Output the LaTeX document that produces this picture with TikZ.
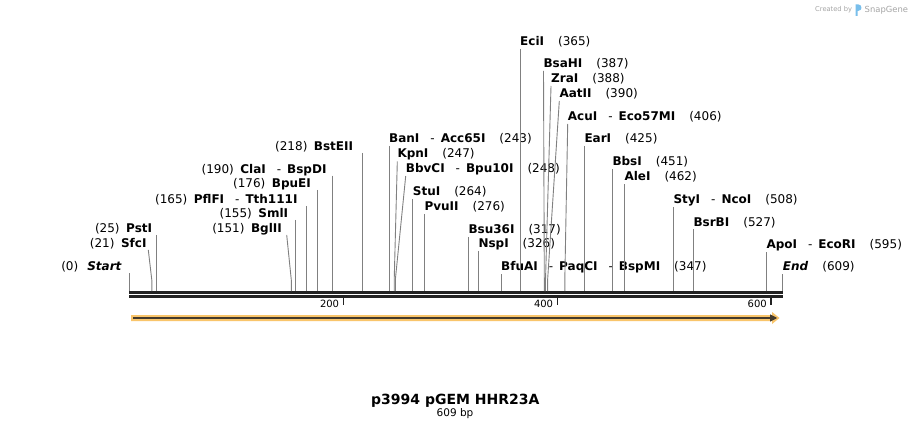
\documentclass[tikz,border=0pt]{standalone}
\usepackage{fontspec}
\setmainfont{DejaVu Sans}
\definecolor{cutgray}{RGB}{128,128,128}
\definecolor{rulerblack}{RGB}{34,34,34}
\definecolor{arrorange}{RGB}{249,197,107}
\definecolor{arrdark}{RGB}{68,58,44}
\definecolor{wmgray}{RGB}{165,165,165}
\definecolor{logoblue}{RGB}{120,190,235}
\newcommand{\sepd}{\hspace{11pt}-\hspace{6pt}}
\newcommand{\numgap}{\hspace{14pt}}
\newcommand{\lgap}{\hspace{6.5pt}}
\tikzset{
  cut/.style={draw=cutgray, line width=0.9pt},
  lab/.style={inner sep=0pt, font=\fontsize{12}{14}\selectfont},
  rlab/.style={lab, anchor=base west},
  llab/.style={lab, anchor=base east},
  rulerline/.style={draw=rulerblack, line width=2.7pt},
  tickmark/.style={draw=rulerblack, line width=1.6pt},
  ticklab/.style={inner sep=0pt, anchor=base east, font=\fontsize{10}{12}\selectfont},
}
\begin{document}
\begin{tikzpicture}[x=1pt,y=-1pt]
\useasboundingbox[fill=white] (0,0) rectangle (912,430);

% watermark
\node[anchor=base west, inner sep=0pt, text=wmgray, font=\fontsize{6.7}{8}\selectfont] (wm1) at (815,12) {Created by};
\fill[logoblue] (855.5,16) -- (855.5,4.5) -- (858.5,4.5) to[out=0,in=0,looseness=1.6] (858.5,10.8) -- (857.6,10.8) -- (857.6,16) -- cycle;
\node[anchor=base west, inner sep=0pt, text=wmgray, font=\fontsize{8.4}{10}\selectfont] (wm2) at (864.5,12.5) {SnapGene};

% ruler
\coordinate (r0) at (129.3,292.3);
\coordinate (r1) at (782.7,292.3);
\coordinate (q0) at (129.3,296.3);
\coordinate (q1) at (782.7,296.3);
\draw[rulerline] (r0) -- (r1);
\draw[rulerline] (q0) -- (q1);

% ticks
\coordinate (t200a) at (343.3,297); \coordinate (t200b) at (343.3,304.5);
\coordinate (t400a) at (557.3,297); \coordinate (t400b) at (557.3,304.5);
\coordinate (t600a) at (771,297);   \coordinate (t600b) at (771,304.5);
\draw[tickmark] (t200a) -- (t200b);
\draw[tickmark] (t400a) -- (t400b);
\draw[tickmark] (t600a) -- (t600b);
\node[ticklab] (l200) at (339.3,307.7) {200};
\node[ticklab] (l400) at (553.3,307.7) {400};
\node[ticklab] (l600) at (767,307.7) {600};

% feature arrow
\fill[arrorange] (131,315) -- (772,315) -- (772,312) -- (779.5,318) -- (772,324) -- (772,321) -- (131,321) -- cycle;
\draw[arrdark, line width=1.8pt] (133,318) -- (771,318);
\fill[arrdark] (770,314.3) -- (777.2,318) -- (770,321.7) -- cycle;

% left labels
\node[llab] (nStart) at (122,270) {(0)\hspace{9pt}\textbf{\itshape Start}};
\node[llab] (nSfcI) at (146.7,247.3) {(21)\lgap\textbf{SfcI}};
\node[llab] (nPstI) at (152.3,232.3) {(25)\lgap\textbf{PstI}};
\node[llab] (nBglII) at (282,232.3) {(151)\lgap\textbf{BglII}};
\node[llab] (nSmlI) at (288.3,217.3) {(155)\lgap\textbf{SmlI}};
\node[llab] (nPflFI) at (297.7,203.3) {(165)\lgap\textbf{PflFI}\sepd\textbf{Tth111I}};
\node[llab] (nBpuEI) at (311,187.3) {(176)\lgap\textbf{BpuEI}};
\node[llab] (nClaI) at (326.7,173.3) {(190)\lgap\textbf{ClaI}\sepd\textbf{BspDI}};
\node[llab] (nBstEII) at (353.3,150.7) {(218)\lgap\textbf{BstEII}};

% right labels
\node[rlab] (nEciI) at (520,45.7) {\textbf{EciI}\numgap(365)};
\node[rlab] (nBsaHI) at (543.3,67.3) {\textbf{BsaHI}\numgap(387)};
\node[rlab] (nZraI) at (551,82.7) {\textbf{ZraI}\numgap(388)};
\node[rlab] (nAatII) at (559.3,97.7) {\textbf{AatII}\numgap(390)};
\node[rlab] (nAcuI) at (567.7,120.7) {\textbf{AcuI}\sepd\textbf{Eco57MI}\numgap(406)};
\node[rlab] (nBanI) at (389,142.7) {\textbf{BanI}\sepd\textbf{Acc65I}\numgap(243)};
\node[rlab] (nEarI) at (584.3,142.7) {\textbf{EarI}\numgap(425)};
\node[rlab] (nKpnI) at (397.3,158) {\textbf{KpnI}\numgap(247)};
\node[rlab] (nBbsI) at (612.3,166) {\textbf{BbsI}\numgap(451)};
\node[rlab] (nBbvCI) at (405.7,172.7) {\textbf{BbvCI}\sepd\textbf{Bpu10I}\numgap(248)};
\node[rlab] (nAleI) at (624.3,181) {\textbf{AleI}\numgap(462)};
\node[rlab] (nStuI) at (412.7,196) {\textbf{StuI}\numgap(264)};
\node[rlab] (nStyI) at (673.3,203.3) {\textbf{StyI}\sepd\textbf{NcoI}\numgap(508)};
\node[rlab] (nPvuII) at (424.3,210.7) {\textbf{PvuII}\numgap(276)};
\node[rlab] (nBsrBI) at (693.3,226) {\textbf{BsrBI}\numgap(527)};
\node[rlab] (nBsu36I) at (468.3,233.3) {\textbf{Bsu36I}\numgap(317)};
\node[rlab] (nNspI) at (478.3,247.7) {\textbf{NspI}\numgap(326)};
\node[rlab] (nApoI) at (766.3,248.3) {\textbf{ApoI}\sepd\textbf{EcoRI}\numgap(595)};
\node[rlab] (nBfuAI) at (501,270.7) {\textbf{BfuAI}\sepd\textbf{PaqCI}\sepd\textbf{BspMI}\numgap(347)};
\node[rlab] (nEnd) at (782.7,270.7) {\textbf{\itshape End}\numgap(609)};

% cut-site lines: top, bend, site
\coordinate (aStart) at (129.5,273);  \coordinate (sStart) at (129.5,291);
\coordinate (aSfcI) at (148.3,250);   \coordinate (kSfcI) at (151.8,280); \coordinate (sSfcI) at (151.8,291);
\coordinate (aPstI) at (156.5,235);   \coordinate (sPstI) at (156.5,291);
\coordinate (aBglII) at (286.7,235);  \coordinate (kBglII) at (291.3,280); \coordinate (sBglII) at (291.3,291);
\coordinate (aSmlI) at (295.7,220);   \coordinate (sSmlI) at (295.7,291);
\coordinate (aPflFI) at (306.5,206);  \coordinate (sPflFI) at (306.5,291);
\coordinate (aBpuEI) at (317.5,190);  \coordinate (sBpuEI) at (317.5,291);
\coordinate (aClaI) at (332.5,175.7); \coordinate (sClaI) at (332.5,291);
\coordinate (aBstEII) at (362.7,153); \coordinate (sBstEII) at (362.7,291);

\coordinate (aEciI) at (520.5,49);    \coordinate (sEciI) at (520.5,291);
\coordinate (aBsaHI) at (543.5,71);   \coordinate (kBsaHI) at (544.3,280); \coordinate (sBsaHI) at (544.3,291);
\coordinate (aZraI) at (551,86);      \coordinate (kZraI) at (545.5,280); \coordinate (sZraI) at (545.5,291);
\coordinate (aAatII) at (559.3,101);  \coordinate (kAatII) at (547.6,280); \coordinate (sAatII) at (547.6,291);
\coordinate (aAcuI) at (567.7,124);   \coordinate (kAcuI) at (564.8,280); \coordinate (sAcuI) at (564.8,291);
\coordinate (aBanI) at (389.3,146);   \coordinate (sBanI) at (389.3,291);
\coordinate (aEarI) at (584.5,146);   \coordinate (sEarI) at (584.5,291);
\coordinate (aKpnI) at (397.3,161.5); \coordinate (kKpnI) at (394.2,280); \coordinate (sKpnI) at (394.2,291);
\coordinate (aBbsI) at (612.5,169.5); \coordinate (sBbsI) at (612.5,291);
\coordinate (aBbvCI) at (405.7,176);  \coordinate (kBbvCI) at (395.3,280); \coordinate (sBbvCI) at (395.3,291);
\coordinate (aAleI) at (624.5,184.5); \coordinate (sAleI) at (624.5,291);
\coordinate (aStuI) at (412.7,199.5); \coordinate (sStuI) at (412.7,291);
\coordinate (aStyI) at (673.5,207);   \coordinate (sStyI) at (673.5,291);
\coordinate (aPvuII) at (424.5,214);  \coordinate (sPvuII) at (424.5,291);
\coordinate (aBsrBI) at (693.5,229.5); \coordinate (sBsrBI) at (693.5,291);
\coordinate (aBsu36I) at (468.5,237); \coordinate (sBsu36I) at (468.5,291);
\coordinate (aNspI) at (478.5,251);   \coordinate (sNspI) at (478.5,291);
\coordinate (aApoI) at (766.5,252);   \coordinate (sApoI) at (766.5,291);
\coordinate (aBfuAI) at (501,274);    \coordinate (sBfuAI) at (501,291);
\coordinate (aEnd) at (782.5,274);    \coordinate (sEnd) at (782.5,291);

\foreach \n in {Start,PstI,SmlI,PflFI,BpuEI,ClaI,BstEII,EciI,BanI,EarI,BbsI,AleI,StuI,StyI,PvuII,BsrBI,Bsu36I,NspI,ApoI,BfuAI,End}
  \draw[cut] (a\n) -- (s\n);
\foreach \n in {SfcI,BglII,BsaHI,ZraI,AatII,AcuI,KpnI,BbvCI}
  \draw[cut] (a\n) -- (k\n) -- (s\n);

% title
\node[anchor=base, inner sep=0pt, font=\bfseries\fontsize{14}{16}\selectfont] (title) at (455.3,404) {p3994 pGEM HHR23A};
\node[anchor=base, inner sep=0pt, font=\fontsize{10.5}{12}\selectfont] (len) at (455,416.7) {609 bp};
\end{tikzpicture}
\end{document}
